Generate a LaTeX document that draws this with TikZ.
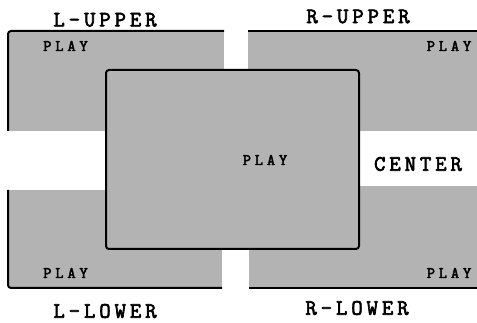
\documentclass[tikz,border=0pt]{standalone}
\usepackage{fontspec}
\newfontfamily\labelfont[LetterSpace=18, FakeBold=3]{Latin Modern Mono}
\newfontfamily\playfont[LetterSpace=24, FakeBold=3]{Latin Modern Mono}
\definecolor{screengray}{RGB}{179,179,179}
\tikzset{
	region/.style={fill=screengray, draw=none},
	edge/.style={line width=2pt, rounded corners=3pt},
	areaname/.style={inner sep=0pt, font=\labelfont\fontsize{22}{22}\selectfont},
	playname/.style={inner sep=0pt, font=\playfont\fontsize{16}{16}\selectfont}
}
\begin{document}
\begin{tikzpicture}[x=1pt, y=-1pt]
	\useasboundingbox (0,0) rectangle (477,323);
	
	% linke obere Flaeche
	\fill[region] (8,31) rectangle (224,131);
	\draw[edge] (8,131) -- (8,31) -- (224,31);
	% rechte obere Flaeche
	\fill[region] (248,31) rectangle (477,131);
	\draw[edge] (248,31) -- (477,31);
	% linke untere Flaeche
	\fill[region] (8,190) rectangle (222,288);
	\draw[edge] (8,190) -- (8,288) -- (222,288);
	% rechte untere Flaeche
	\fill[region] (249,186) rectangle (477,288);
	\draw[edge] (249,288) -- (477,288);
	% mittlere Flaeche
	\draw[edge, fill=screengray] (106,70) rectangle (359,249);
	
	%Beschriftung
	\node[areaname] (lu) at (105,19.8) {L-UPPER};
	\node[areaname] (ru) at (358,16.5) {R-UPPER};
	\node[areaname] (ll) at (105,311) {L-LOWER};
	\node[areaname] (rl) at (357,308) {R-LOWER};
	\node[areaname] (ce) at (418,164) {CENTER};
	
	\node[playname] (lu play) at (65.5,46) {PLAY};
	\node[playname] (ru play) at (449,46) {PLAY};
	\node[playname] (ce play) at (265,160) {PLAY};
	\node[playname] (ll play) at (65.5,273) {PLAY};
	\node[playname] (rl play) at (449,273) {PLAY};
	
\end{tikzpicture}
\end{document}
